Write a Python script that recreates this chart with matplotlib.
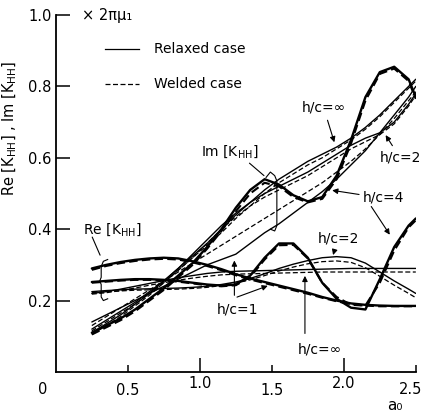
import matplotlib
matplotlib.use("Agg")
import matplotlib.pyplot as plt

# frequency a0
a0 = [0.25, 0.35, 0.45, 0.55, 0.65, 0.75, 0.85, 0.95, 1.05, 1.15, 1.25, 1.35,
      1.45, 1.55, 1.65, 1.75, 1.85, 1.95, 2.05, 2.15, 2.25, 2.35, 2.45, 2.5]

# Im[KHH]
im_inf_relaxed = [0.12, 0.145, 0.17, 0.195, 0.225, 0.255, 0.29, 0.325, 0.36, 0.40, 0.44, 0.475,
                  0.51, 0.54, 0.565, 0.59, 0.61, 0.63, 0.655, 0.685, 0.72, 0.76, 0.80, 0.82]
im_inf_welded = [0.115, 0.14, 0.165, 0.19, 0.22, 0.25, 0.285, 0.32, 0.355, 0.39, 0.43, 0.465,
                 0.50, 0.53, 0.555, 0.58, 0.60, 0.625, 0.65, 0.68, 0.715, 0.755, 0.795, 0.815]
im_4_relaxed = [0.11, 0.13, 0.15, 0.175, 0.205, 0.235, 0.27, 0.305, 0.35, 0.40, 0.46, 0.51,
                0.54, 0.525, 0.495, 0.478, 0.49, 0.55, 0.65, 0.77, 0.84, 0.855, 0.82, 0.77]
im_4_welded = [0.105, 0.125, 0.145, 0.17, 0.20, 0.23, 0.265, 0.30, 0.345, 0.395, 0.45, 0.50,
               0.53, 0.52, 0.49, 0.475, 0.485, 0.54, 0.64, 0.76, 0.835, 0.85, 0.815, 0.765]
im_2_relaxed = [0.11, 0.135, 0.16, 0.19, 0.22, 0.255, 0.29, 0.33, 0.37, 0.41, 0.445, 0.475,
                0.50, 0.52, 0.54, 0.56, 0.585, 0.61, 0.635, 0.655, 0.67, 0.70, 0.75, 0.78]
im_2_welded = [0.105, 0.13, 0.155, 0.185, 0.215, 0.25, 0.285, 0.32, 0.36, 0.40, 0.435, 0.465,
               0.49, 0.51, 0.53, 0.55, 0.575, 0.60, 0.625, 0.645, 0.665, 0.695, 0.745, 0.775]
im_1_relaxed = [0.14, 0.16, 0.18, 0.20, 0.22, 0.24, 0.26, 0.28, 0.30, 0.315, 0.33, 0.36,
                0.39, 0.415, 0.445, 0.475, 0.505, 0.54, 0.58, 0.62, 0.67, 0.72, 0.77, 0.80]
im_1_welded = [0.13, 0.155, 0.18, 0.205, 0.23, 0.255, 0.28, 0.305, 0.33, 0.355, 0.38, 0.405,
               0.43, 0.455, 0.48, 0.505, 0.53, 0.56, 0.59, 0.625, 0.665, 0.71, 0.76, 0.785]

# Re[KHH]
re_1_relaxed = [0.29, 0.30, 0.308, 0.314, 0.318, 0.32, 0.318, 0.31, 0.30, 0.288, 0.274, 0.262,
                0.252, 0.242, 0.232, 0.222, 0.21, 0.20, 0.192, 0.188, 0.186, 0.185, 0.185, 0.185]
re_1_welded = [0.286, 0.297, 0.305, 0.311, 0.315, 0.317, 0.315, 0.307, 0.297, 0.285, 0.271, 0.259,
               0.249, 0.239, 0.229, 0.219, 0.208, 0.198, 0.19, 0.186, 0.184, 0.184, 0.184, 0.184]
re_4_relaxed = [0.252, 0.255, 0.258, 0.26, 0.26, 0.258, 0.255, 0.25, 0.245, 0.242, 0.245, 0.27,
                0.32, 0.36, 0.36, 0.32, 0.25, 0.205, 0.18, 0.175, 0.26, 0.35, 0.41, 0.43]
re_4_welded = [0.25, 0.253, 0.256, 0.258, 0.258, 0.256, 0.253, 0.248, 0.243, 0.24, 0.243, 0.266,
               0.315, 0.355, 0.356, 0.318, 0.25, 0.21, 0.188, 0.186, 0.25, 0.34, 0.405, 0.425]
re_inf_relaxed = [0.22, 0.225, 0.232, 0.24, 0.248, 0.256, 0.264, 0.27, 0.276, 0.28, 0.282, 0.283,
                  0.284, 0.285, 0.286, 0.287, 0.288, 0.289, 0.29, 0.29, 0.29, 0.29, 0.29, 0.29]
re_inf_welded = [0.218, 0.222, 0.228, 0.235, 0.243, 0.25, 0.257, 0.263, 0.268, 0.272, 0.274, 0.275,
                 0.276, 0.277, 0.278, 0.279, 0.28, 0.28, 0.28, 0.28, 0.28, 0.28, 0.28, 0.28]
re_2_relaxed = [0.225, 0.228, 0.23, 0.232, 0.233, 0.234, 0.235, 0.237, 0.24, 0.245, 0.252, 0.262,
                0.275, 0.29, 0.302, 0.312, 0.32, 0.323, 0.32, 0.305, 0.28, 0.255, 0.232, 0.22]
re_2_welded = [0.222, 0.225, 0.227, 0.229, 0.23, 0.231, 0.232, 0.234, 0.237, 0.242, 0.249, 0.258,
               0.27, 0.283, 0.294, 0.303, 0.309, 0.311, 0.307, 0.292, 0.268, 0.243, 0.22, 0.208]

fig = plt.figure(figsize=(4.23, 4.11), dpi=100)
ax = fig.add_axes([0.132, 0.095, 0.851, 0.8685])

thin = 1.0
thick = 1.7
dash = (0, (4, 2))

pairs = [
    (im_inf_relaxed, im_inf_welded, thin),
    (im_2_relaxed, im_2_welded, thin),
    (im_1_relaxed, im_1_welded, thin),
    (im_4_relaxed, im_4_welded, thick),
    (re_inf_relaxed, re_inf_welded, thin),
    (re_2_relaxed, re_2_welded, thin),
    (re_1_relaxed, re_1_welded, thick),
    (re_4_relaxed, re_4_welded, thick),
]
for relaxed, welded, lw in pairs:
    ax.plot(a0, relaxed, color="black", lw=lw, solid_capstyle="round")
    ax.plot(a0, welded, color="black", lw=lw * 0.9, linestyle=dash)

ax.set_xlim(0, 2.5)
ax.set_ylim(0, 1.0)
for s in ["top", "right"]:
    ax.spines[s].set_visible(False)
ax.spines["left"].set_linewidth(1.3)
ax.spines["bottom"].set_linewidth(1.3)

ax.set_yticks([0.2, 0.4, 0.6, 0.8, 1.0])
ax.set_yticklabels(["0.2", "0.4", "0.6", "0.8", "1.0"])
ax.set_xticks([1.0, 2.0])
ax.set_xticklabels(["1.0", "2.0"])
ax.set_xticks([0.5, 1.5, 2.5], minor=True)
ax.set_xticklabels(["0.5", "1.5", ""], minor=True)
ax.tick_params(axis="both", which="major", direction="in", length=10, width=1.1,
               labelsize=10.5, pad=3)
ax.tick_params(axis="x", which="minor", direction="in", length=5, width=1.1,
               labelsize=10.5, pad=8)
ax.tick_params(axis="y", which="major", pad=3)
ax.text(-0.09, -0.028, "0", transform=ax.get_xaxis_transform(), ha="center", va="top",
        fontsize=10.5)
ax.text(2.545, -0.028, "2.5", transform=ax.get_xaxis_transform(), ha="right", va="top",
        fontsize=10.5)

fig.text(395 / 423, 1 - 405 / 411, "a₀", ha="center", va="center", fontsize=11)
fig.text(10 / 423, 1 - 128 / 411, r"Re [K$_{\mathrm{HH}}$] , Im [K$_{\mathrm{HH}}$]",
         rotation=90, ha="center", va="center", fontsize=10.5)

# unit and legend
ax.text(0.18, 1.0, "× 2πμ₁", ha="left", va="center", fontsize=10.5)
ax.plot([0.34, 0.58], [0.905, 0.905], color="black", lw=0.9)
ax.text(0.68, 0.905, "Relaxed case", ha="left", va="center", fontsize=10)
ax.plot([0.34, 0.58], [0.807, 0.807], color="black", lw=0.9, linestyle=dash)
ax.text(0.68, 0.807, "Welded case", ha="left", va="center", fontsize=10)

arrow = dict(arrowstyle="-|>", color="black", lw=0.8, mutation_scale=8)
line = dict(arrowstyle="-", color="black", lw=0.8)

# Im / Re group labels with braces
ax.text(1.21, 0.616, r"Im [K$_{\mathrm{HH}}$]", ha="center", va="center", fontsize=10)
ax.annotate("", xy=(1.46, 0.545), xytext=(1.33, 0.59), arrowprops=line)
ax.plot([1.46, 1.49, 1.52, 1.535, 1.535, 1.52, 1.49],
        [0.545, 0.56, 0.55, 0.535, 0.41, 0.395, 0.4], color="black", lw=0.8)

ax.text(0.39, 0.40, r"Re [K$_{\mathrm{HH}}$]", ha="center", va="center", fontsize=10)
ax.annotate("", xy=(0.315, 0.32), xytext=(0.245, 0.385), arrowprops=line)
ax.plot([0.36, 0.33, 0.315, 0.315, 0.305, 0.315, 0.315, 0.33, 0.36],
        [0.315, 0.31, 0.295, 0.265, 0.255, 0.245, 0.21, 0.2, 0.205], color="black", lw=0.8)

# h/c annotations
ax.annotate("h/c=∞", xy=(1.94, 0.636), xytext=(1.86, 0.74), ha="center", va="center",
            fontsize=10, arrowprops=arrow)
ax.annotate("h/c=2", xy=(2.28, 0.67), xytext=(2.535, 0.60), ha="right", va="center",
            fontsize=10, arrowprops=arrow)
ax.text(2.13, 0.49, "h/c=4", ha="left", va="center", fontsize=10)
ax.annotate("", xy=(1.90, 0.51), xytext=(2.125, 0.496), arrowprops=arrow)
ax.annotate("", xy=(2.33, 0.378), xytext=(2.18, 0.47), arrowprops=arrow)
ax.annotate("h/c=2", xy=(1.92, 0.32), xytext=(1.96, 0.375), ha="center", va="center",
            fontsize=10, arrowprops=arrow)
ax.text(1.26, 0.174, "h/c=1", ha="center", va="center", fontsize=10)
ax.annotate("", xy=(1.24, 0.32), xytext=(1.24, 0.207), arrowprops=arrow)
ax.annotate("", xy=(1.49, 0.244), xytext=(1.24, 0.207), arrowprops=arrow)
ax.text(1.83, 0.062, "h/c=∞", ha="center", va="center", fontsize=10)
ax.annotate("", xy=(1.73, 0.277), xytext=(1.73, 0.10), arrowprops=arrow)

fig.savefig("out.png", dpi=100)
